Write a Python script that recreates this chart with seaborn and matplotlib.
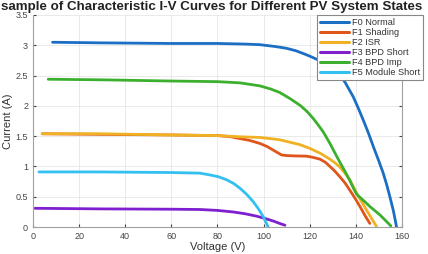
import matplotlib
matplotlib.use("Agg")
import matplotlib.pyplot as plt
import seaborn as sns
import pandas as pd

# Data
f0_v = [8.5, 30, 60, 80, 92, 98.4, 105, 110, 114, 117.5, 120.1, 123, 125.9, 129.5, 133.1, 135.5, 138.9,
        141, 143.2, 145.4, 147.6, 149.8, 151.9, 153.4, 154.8, 156.3, 157.7]
f0_i = [3.05, 3.04, 3.03, 3.03, 3.02, 3.01, 2.98, 2.95, 2.91, 2.86, 2.82, 2.77, 2.71, 2.62, 2.51, 2.38, 2.15,
        1.97, 1.77, 1.56, 1.33, 1.11, 0.89, 0.70, 0.50, 0.27, 0.0]

f1_v = [4, 30, 60, 80, 86, 89.8, 94, 98.4, 101.5, 104.2, 106, 107.8, 110, 113, 118.7,
        121.5, 124.5, 126.8, 128.8, 131, 133.1, 135.3, 137.4, 139.6, 141.8, 144, 146.1]
f1_i = [1.54, 1.53, 1.52, 1.51, 1.49, 1.46, 1.43, 1.38, 1.33, 1.27, 1.23, 1.19, 1.18, 1.175, 1.17,
        1.15, 1.12, 1.07, 1.0, 0.92, 0.83, 0.73, 0.61, 0.48, 0.34, 0.19, 0.06]

f2_v = [4, 29, 60, 79.7, 89.8, 98, 103, 107.1, 111.5, 115.8, 120, 124.5, 128.8, 131, 133.1,
        135.3, 137.4, 140.4, 142.5, 144.7, 146.9, 149]
f2_i = [1.54, 1.54, 1.52, 1.51, 1.49, 1.48, 1.46, 1.44, 1.40, 1.36, 1.30, 1.22, 1.12, 1.06, 0.99,
        0.89, 0.78, 0.56, 0.42, 0.28, 0.14, 0.01]

f3_v = [0.9, 30, 60, 72.4, 80, 86.7, 92, 97, 100.8, 104.2, 107, 109.3]
f3_i = [0.31, 0.30, 0.295, 0.29, 0.275, 0.25, 0.22, 0.18, 0.14, 0.10, 0.06, 0.03]

f4_v = [6.6, 30, 60, 80, 89.8, 98.4, 103, 107.1, 111.5, 115.8, 118.8, 121.6, 124, 125.9, 128.8, 131,
        133.1, 135.3, 137.4, 139, 140.4, 143.3, 146.1, 150.5, 155.2]
f4_i = [2.44, 2.43, 2.41, 2.40, 2.38, 2.33, 2.28, 2.22, 2.12, 2.01, 1.91, 1.79, 1.67, 1.57, 1.38, 1.22,
        1.07, 0.92, 0.77, 0.64, 0.54, 0.44, 0.34, 0.20, 0.02]

f5_v = [2.6, 29, 60, 72.4, 76.8, 80.5, 84, 87, 89.8, 92.7, 95.5, 97.8, 99.9, 102]
f5_i = [0.91, 0.91, 0.90, 0.89, 0.86, 0.83, 0.78, 0.72, 0.64, 0.54, 0.42, 0.30, 0.17, 0.0]

labels = ["F0 Normal", "F1 Shading", "F2 ISR", "F3 BPD Short", "F4 BPD Imp", "F5 Module Short"]
colors = ["#1a6fc4", "#e0561a", "#f0b224", "#7f1fd0", "#3cb02e", "#33c0f0"]

x_ticks = [0, 20, 40, 60, 80, 100, 120, 140, 160]
y_ticks = [0, 0.5, 1, 1.5, 2, 2.5, 3, 3.5]

series = [(f0_v, f0_i), (f1_v, f1_i), (f2_v, f2_i), (f3_v, f3_i), (f4_v, f4_i), (f5_v, f5_i)]
frames = []
for lab, (v, i) in zip(labels, series):
    frames.append(pd.DataFrame({"Voltage": v, "Current": i, "State": lab}))
df = pd.concat(frames, ignore_index=True)

sns.set_style("whitegrid")
plt.rcParams['font.family'] = ['Liberation Sans', 'DejaVu Sans']

fig = plt.figure(figsize=(4.28, 2.54), dpi=100)
ax = fig.add_axes([0.077, 0.106, 0.862, 0.835])

sns.lineplot(data=df, x="Voltage", y="Current", hue="State", hue_order=labels,
             palette=colors, linewidth=2.0, sort=False, estimator=None, ax=ax)

ax.set_xlim(0, 160)
ax.set_ylim(0, 3.5)
ax.set_xticks(x_ticks)
ax.set_yticks(y_ticks)
ax.set_yticklabels([f"{t:g}" for t in y_ticks])
ax.tick_params(axis='both', labelsize=6.5, colors='#444444', direction='in', length=2,
               left=True, bottom=True, right=True)
ax.grid(True, color='#e6e6e6', linewidth=0.6)
for s in ['left', 'bottom', 'right']:
    ax.spines[s].set_visible(True)
    ax.spines[s].set_color('#a0a0a0')
    ax.spines[s].set_linewidth(0.8)
ax.spines['top'].set_visible(False)

ax.set_xlabel("Voltage (V)", fontsize=8, color='#333333', labelpad=1)
ax.set_ylabel("Current (A)", fontsize=8, color='#333333', labelpad=2)
fig.text(0.495, 0.998, "sample of Characteristic I-V Curves for Different PV System States",
         ha='center', va='top', fontsize=9.6, fontweight='bold', color='#222222')

leg = ax.legend(loc='upper right', bbox_to_anchor=(0.988, 0.941), bbox_transform=fig.transFigure,
                fontsize=6.6, frameon=True, fancybox=False, handlelength=3.2, handletextpad=0.3,
                borderpad=0.3, labelspacing=0.12, borderaxespad=0.0, framealpha=1.0)
leg.get_frame().set_edgecolor('#888888')
leg.get_frame().set_linewidth(0.8)
for line in leg.get_lines():
    line.set_linewidth(2.2)
for t in leg.get_texts():
    t.set_color('#333333')

fig.savefig("out.png", dpi=100)
